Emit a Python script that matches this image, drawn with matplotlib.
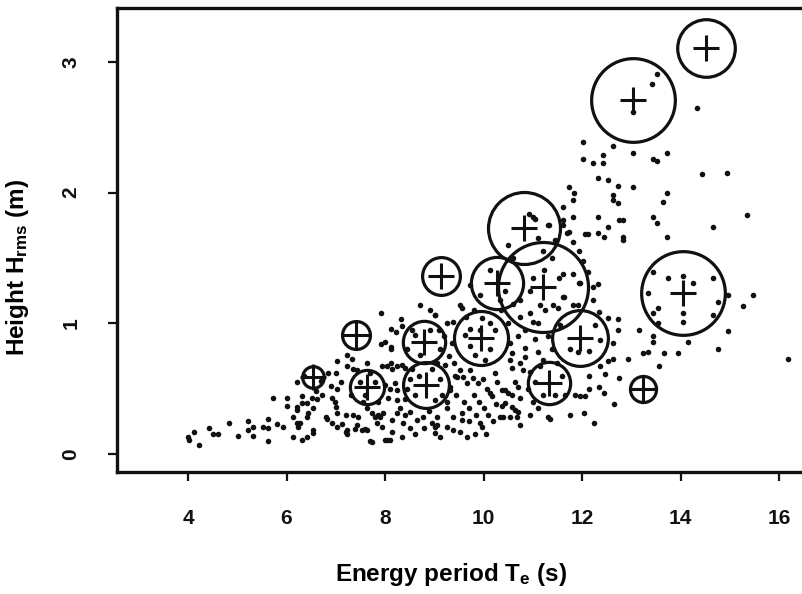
import matplotlib
matplotlib.use("Agg")
import matplotlib.pyplot as plt

# ---------------- data ----------------
# observed sea states: energy period Te (s), rms height Hrms (m)
obs_T = [
    # low tail
    4.00, 4.02, 4.12, 4.22, 4.43, 4.51, 4.61, 4.83, 5.02, 5.22, 5.22, 5.32, 5.32, 5.52, 5.62, 5.62, 5.62, 5.81, 5.93, 5.73,
    6.01, 6.01, 6.13, 6.13, 6.21, 6.21, 6.21, 6.31, 6.31, 6.42, 6.21, 6.23, 6.27, 6.31, 6.42, 6.54, 6.52, 6.62, 6.72, 6.54,
    6.54, 6.42, 6.44, 6.82,
    # 7-9 s
    7.92, 8.71, 8.91, 9.02, 8.12, 8.22, 8.32, 8.35, 7.92, 8.00, 8.12, 8.12, 7.23, 7.33, 7.03, 7.63, 7.23, 7.35, 7.43, 7.94,
    8.04, 8.12, 8.14, 8.24, 8.35, 8.41, 7.03, 6.92, 6.98, 7.03, 6.80, 6.92, 7.03, 7.13, 7.23, 7.23, 7.35, 7.45, 7.43, 7.53,
    7.63, 7.63, 7.74, 7.80, 7.86, 7.90, 7.96, 7.84, 7.94, 8.14, 8.14, 8.04, 8.10, 7.74, 8.35, 8.00, 8.10, 8.20, 8.24, 8.06,
    8.24, 8.30, 8.41, 8.51, 8.37, 8.24, 8.65, 8.77, 8.95, 9.06, 9.02, 8.61, 8.91, 9.12, 8.71, 8.51, 9.12, 8.61, 9.02, 9.22,
    9.32, 7.00, 7.20, 7.20, 7.70, 7.40, 7.60, 8.00, 6.70, 6.90, 6.35, 6.60,
    # 9-11 s
    9.52, 9.56, 9.02, 9.26, 9.38, 9.97, 10.13, 9.73, 9.93, 10.54, 10.58, 10.54, 10.84, 10.84, 10.74, 10.58, 10.80, 10.94,
    11.11, 11.21, 11.15, 9.42, 9.52, 9.58, 9.66, 9.73, 9.79, 9.89, 9.99, 10.07, 10.13, 10.17, 10.23, 10.27, 10.38, 10.44,
    10.50, 10.58, 10.64, 10.70, 10.74, 10.38, 10.44, 10.58, 10.64, 10.70, 10.34, 10.40, 10.54, 10.68, 10.74, 9.93, 9.97,
    9.26, 9.38, 9.56, 9.56, 9.26, 9.38, 9.12, 9.66, 9.83, 9.52, 9.46, 9.32, 9.06, 9.02, 11.31, 11.15, 11.25, 10.94, 10.74,
    11.00, 9.73, 10.13, 9.83, 10.23, 9.62, 10.03,
    # 11-14 s, low heights
    11.63, 11.41, 11.51, 11.82, 11.92, 12.22, 12.35, 12.53, 12.73, 12.73, 13.16, 13.44, 13.44, 13.34, 13.24, 13.66, 13.56,
    12.93, 12.63, 12.63, 12.53, 12.37, 12.47, 12.75, 12.14, 12.14, 12.35, 12.45, 11.86, 11.96, 12.06, 12.65, 12.04, 11.76,
    11.35, 12.24, 12.14, 11.92, 13.54, 13.44, 13.34, 13.54, 11.55, 12.37, 11.76, 12.26,
    # upper band
    12.02, 12.02, 12.22, 12.43, 12.43, 12.63, 13.04, 13.44, 13.52, 12.32, 12.53, 12.73, 13.04, 11.74, 11.84, 11.82, 11.61,
    12.63, 12.63, 12.73, 11.82, 12.32, 12.75, 12.83, 12.53, 12.32, 12.45, 12.83, 12.83, 12.06, 12.12, 11.82, 13.44, 13.52,
    11.61, 11.74, 11.94, 12.02, 12.12, 11.94, 12.32, 12.22, 13.04, 11.33, 11.00, 13.52, 13.42, 14.34, 13.73, 13.64,
    # long periods
    13.73, 14.44, 14.94, 14.66, 15.35, 13.73, 13.44, 13.75, 14.05, 14.25, 14.66, 14.05, 14.05, 14.96, 15.47, 15.27, 14.96,
    14.15, 14.76, 13.95, 16.18, 14.76, 14.66,
    # inside the large circles
    11.61, 11.82, 11.53, 11.96, 11.23, 11.00, 11.61, 10.74, 10.94, 10.92, 11.05, 11.11, 11.45, 11.31, 11.61, 11.70, 10.13,
    10.44, 9.93, 10.34, 9.73, 11.40, 11.20, 10.60, 10.50,
    # dense core
    9.10, 9.20, 9.30, 9.40, 9.35, 9.15, 9.25, 9.45, 9.60, 9.70, 9.80, 9.90, 10.00, 10.10, 10.20, 9.85, 9.70, 10.05, 10.25,
    8.45, 8.55, 8.45, 8.55, 8.95, 9.05, 8.70, 8.40, 8.50, 8.60, 8.80, 8.90, 7.60, 7.70, 7.80, 7.50, 7.85, 7.55, 7.30, 7.10,
    7.00, 6.85, 10.90, 11.00, 11.10, 10.95, 11.20, 11.05, 10.85, 10.70, 11.05, 11.30, 11.40, 11.50, 11.60, 11.45, 11.65,
    11.10, 10.35, 10.50, 10.60, 9.65, 9.80,
]
obs_H = [
    0.13, 0.11, 0.17, 0.07, 0.20, 0.15, 0.15, 0.24, 0.14, 0.25, 0.18, 0.21, 0.14, 0.21, 0.20, 0.27, 0.10, 0.23, 0.21, 0.43,
    0.43, 0.37, 0.13, 0.28, 0.36, 0.34, 0.55, 0.44, 0.39, 0.39, 0.24, 0.21, 0.24, 0.11, 0.13, 0.35, 0.43, 0.42, 0.45, 0.18,
    0.16, 0.28, 0.31, 0.27,
    1.08, 1.14, 1.10, 1.06, 0.96, 0.93, 1.03, 0.98, 0.84, 0.86, 0.82, 0.80, 0.76, 0.73, 0.71, 0.70, 0.67, 0.65, 0.64, 0.67,
    0.67, 0.70, 0.65, 0.67, 0.68, 0.66, 0.50, 0.43, 0.40, 0.31, 0.28, 0.24, 0.21, 0.23, 0.18, 0.15, 0.30, 0.28, 0.22, 0.18,
    0.18, 0.35, 0.31, 0.28, 0.30, 0.28, 0.31, 0.24, 0.21, 0.26, 0.17, 0.11, 0.11, 0.09, 0.13, 0.53, 0.50, 0.54, 0.49, 0.43,
    0.41, 0.35, 0.30, 0.32, 0.24, 0.31, 0.26, 0.28, 0.24, 0.22, 0.16, 0.91, 0.95, 0.80, 0.76, 0.57, 0.57, 0.45, 0.41, 0.68,
    0.49, 0.36, 0.30, 0.17, 0.10, 0.19, 0.19, 0.11, 0.56, 0.52, 0.60, 0.48,
    1.14, 1.12, 1.06, 1.00, 1.01, 1.04, 1.00, 0.96, 0.95, 0.85, 0.77, 0.72, 0.81, 0.74, 0.70, 0.66, 0.64, 0.63,
    0.78, 0.72, 0.67, 0.60, 0.64, 0.59, 0.54, 0.64, 0.58, 0.54, 0.57, 0.50, 0.47, 0.44, 0.62, 0.55, 0.49, 0.49,
    0.47, 0.45, 0.55, 0.51, 0.43, 0.37, 0.39, 0.36, 0.34, 0.32, 0.28, 0.28, 0.28, 0.28, 0.22, 0.24, 0.21,
    0.35, 0.28, 0.31, 0.26, 0.21, 0.18, 0.13, 0.13, 0.15, 0.17, 0.59, 0.51, 0.28, 0.21, 0.28, 1.14, 1.10, 1.08, 1.05,
    1.01, 0.83, 0.80, 0.76, 0.95, 0.91, 0.72,
    1.20, 1.14, 1.12, 1.14, 1.14, 1.18, 1.09, 1.04, 1.03, 0.95, 0.95, 0.90, 0.86, 0.78, 0.77, 0.77, 0.67,
    0.73, 0.85, 0.73, 0.71, 0.67, 0.61, 0.58, 0.60, 0.50, 0.51, 0.47, 0.45, 0.44, 0.44, 0.38, 0.31, 0.30,
    0.27, 0.24, 0.79, 0.78, 1.12, 1.08, 1.23, 1.00, 0.99, 0.87, 0.80, 0.99,
    2.39, 2.26, 2.23, 2.29, 2.23, 2.36, 2.30, 2.26, 2.24, 2.11, 2.10, 2.05, 2.04, 2.04, 2.00, 1.94, 1.89,
    1.98, 1.94, 1.92, 1.81, 1.81, 1.79, 1.79, 1.74, 1.69, 1.66, 1.66, 1.64, 1.68, 1.68, 1.62, 1.81, 1.77,
    1.75, 1.70, 1.55, 1.48, 1.39, 1.31, 1.30, 1.28, 2.62, 1.75, 1.81, 2.91, 2.83, 2.65, 2.00, 1.93,
    2.30, 2.14, 2.15, 1.74, 1.83, 1.66, 1.39, 1.35, 1.36, 1.31, 1.35, 1.08, 1.01, 1.22, 1.22, 1.13, 0.94,
    0.86, 0.80, 0.77, 0.73, 1.16, 1.06,
    1.38, 1.38, 1.35, 1.31, 1.41, 1.35, 1.20, 1.18, 1.25, 1.84, 1.80, 1.65, 1.64, 1.75, 1.79, 1.69, 1.41,
    1.25, 1.22, 1.18, 1.29, 1.50, 1.55, 1.50, 1.60,
    0.95, 0.90, 0.75, 0.70, 0.85, 0.45, 0.40, 0.45, 0.40, 0.35, 0.45, 0.40, 0.35, 0.30, 0.25, 0.30, 0.25, 0.15, 0.38,
    0.50, 0.65, 0.80, 0.95, 0.65, 0.70, 0.60, 0.42, 0.20, 0.15, 0.20, 0.33, 0.45, 0.62, 0.55, 0.55, 0.40, 0.40, 0.45, 0.55,
    0.62, 0.62, 0.50, 0.40, 0.35, 0.30, 0.45, 0.55, 0.95, 0.90, 0.88, 0.90, 0.80, 0.70, 0.60, 0.45, 0.45,
    1.00, 1.10, 1.00, 1.15, 1.05, 1.10,
]

# cluster centres and their relative sizes (largest = 1)
centre_T = [14.52, 13.04, 10.82, 11.21, 10.27, 9.14, 14.05, 11.96, 9.95, 8.79, 8.83, 11.33, 13.24, 7.42, 6.54, 7.63]
centre_H = [3.11, 2.71, 1.73, 1.28, 1.31, 1.36, 1.23, 0.885, 0.89, 0.855, 0.526, 0.54, 0.50, 0.91, 0.587, 0.51]
centre_size = [0.64, 0.93, 0.80, 1.00, 0.58, 0.42, 0.93, 0.62, 0.60, 0.47, 0.51, 0.47, 0.29, 0.31, 0.24, 0.38]

x_ticks = [4, 6, 8, 10, 12, 14, 16]
y_ticks = [0, 1, 2, 3]

# ---------------- style ----------------
plt.rcParams['font.family'] = ['Liberation Sans', 'DejaVu Sans']
plt.rcParams['font.weight'] = 'bold'
plt.rcParams['mathtext.fontset'] = 'custom'
plt.rcParams['mathtext.rm'] = 'Liberation Sans:bold'
plt.rcParams['mathtext.it'] = 'Liberation Sans:bold'
plt.rcParams['mathtext.default'] = 'rm'

W, H = 803, 594
fig = plt.figure(figsize=(W / 100, H / 100), dpi=100)
ax = fig.add_axes([117 / W, (H - 472) / H, (W - 117) / W, (472 - 8) / H])

ink = '#111111'
ax.scatter(obs_T, obs_H, s=16, c=ink, linewidths=0, zorder=2)

max_diam_pt = 90 * 0.72
for t, h, w in zip(centre_T, centre_H, centre_size):
    ax.plot([t], [h], marker='o', markersize=w * max_diam_pt, markerfacecolor='none',
            markeredgecolor=ink, markeredgewidth=2.3, linestyle='none', zorder=3)
ax.plot(centre_T, centre_H, marker='+', markersize=19, markeredgewidth=2.2,
        color=ink, linestyle='none', zorder=4)

ax.set_xlim(2.558, 16.487)
ax.set_ylim(-0.138, 3.413)
ax.set_xticks(x_ticks)
ax.set_yticks(y_ticks)
ax.set_xticklabels([str(v) for v in x_ticks])
ax.set_yticklabels([str(v) for v in y_ticks], rotation=90, va='center')
ax.tick_params(axis='both', direction='out', length=6.5, width=1.6, colors=ink,
               labelsize=15, pad=20)

for side in ['left', 'bottom', 'top']:
    ax.spines[side].set_linewidth(2.4)
    ax.spines[side].set_color(ink)
ax.spines['right'].set_visible(False)

ax.set_xlabel('Energy period T$_\\mathregular{e}$ (s)', fontsize=17.5, fontweight='bold', va='center')
ax.xaxis.set_label_coords((451 - 117) / 686, (472 - 575) / 464)
ax.set_ylabel('Height H$_\\mathregular{rms}$ (m)', fontsize=17.5, fontweight='bold', va='center')
ax.yaxis.set_label_coords((18 - 117) / 686, (472 - 268) / 464)

fig.savefig('out.png', dpi=100)
